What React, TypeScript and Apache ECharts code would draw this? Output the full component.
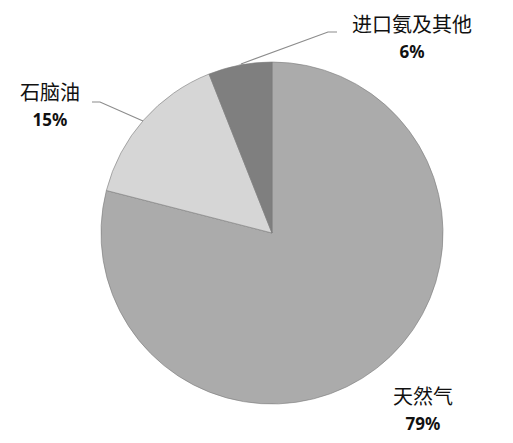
import React, { useEffect, useRef } from "react";
import * as echarts from "echarts";

const categories = ["天然气", "石脑油", "进口氨及其他"];
const values = [79, 15, 6];
const colors = ["#ababab", "#d6d6d6", "#7f7f7f"];

export default function App() {
  const ref = useRef<HTMLDivElement>(null);
  useEffect(() => {
    if (!ref.current) return;
    const chart = echarts.init(ref.current, undefined, { renderer: "svg" });
    const labelSpots: Record<string, any> = {
      天然气: { x: 423, y: 409, line: null },
      石脑油: { x: 50, y: 105, line: [[143, 121], [100, 102], [92, 102]] },
      进口氨及其他: { x: 412, y: 37, line: [[241, 64], [328, 32], [337, 32]] },
    };
    chart.setOption({
      animation: false,
      backgroundColor: "#ffffff",
      series: [
        {
          type: "pie",
          center: [272, 233],
          radius: 171,
          startAngle: 90,
          clockwise: true,
          data: categories.map((c, i) => ({
            name: c,
            value: values[i],
            itemStyle: { color: colors[i] },
            labelLine: { show: i !== 0 },
          })),
          itemStyle: { borderColor: "#7a7a7a", borderWidth: 0.6 },
          label: {
            show: true,
            position: "outside",
            formatter: "{n|{b}}\n{p|{d}%}",
            align: "center",
            rich: {
              n: {
                fontFamily: "Noto Sans CJK SC",
                fontSize: 20,
                color: "#111",
                lineHeight: 28,
                align: "center",
              },
              p: {
                fontFamily: "Noto Sans",
                fontSize: 17,
                fontWeight: "bold",
                color: "#111",
                lineHeight: 28,
                align: "center",
              },
            },
          },
          labelLine: {
            show: true,
            lineStyle: { color: "#8c8c8c", width: 1.2 },
          },
          labelLayout: (params: any) => {
            const name = categories[params.dataIndex];
            const s = labelSpots[name];
            const out: any = {
              x: s.x,
              y: s.y,
              align: "center",
              verticalAlign: "middle",
            };
            if (s.line) out.labelLinePoints = s.line;
            return out;
          },
        },
      ],
    });
    return () => chart.dispose();
  }, []);
  return (
    <div
      ref={ref}
      style={{ position: "fixed", left: 0, top: 0, width: 513, height: 443 }}
    />
  );
}
